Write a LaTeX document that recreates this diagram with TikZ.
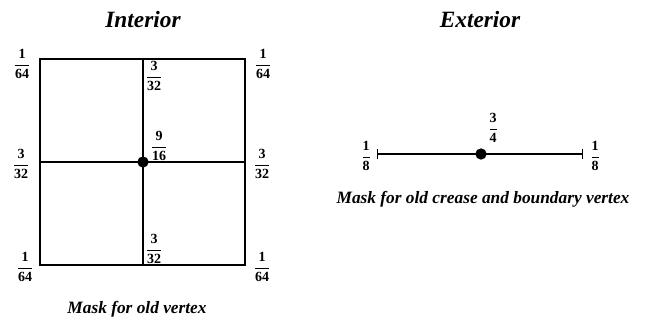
\documentclass[tikz,border=0pt]{standalone}
\usepackage{amsmath}
\usepackage{fontspec}
\setmainfont{Liberation Serif}
\usetikzlibrary{positioning,arrows.meta}
\newcommand{\wt}[2]{$\dfrac{\text{\bfseries #1}}{\text{\bfseries #2}}$}

\begin{document}
\begin{tikzpicture}[
    x=0.75pt,y=-0.75pt,
    edge/.style={line width=1.9pt},
    dot/.style={circle,fill=black,inner sep=0pt,minimum size=8.5pt},
    wlab/.style={inner sep=1pt,font=\fontsize{10.5}{11}\selectfont},
    title/.style={font=\fontsize{17.5}{19}\selectfont\bfseries\itshape},
    caption/.style={font=\fontsize{13}{14}\selectfont\bfseries\itshape},
  ]
    \useasboundingbox (0,0) rectangle (648,322);
    % interior mask
    \coordinate (TL) at (40,59);  \coordinate (BR) at (245,265);
    \coordinate (T) at (143,59);  \coordinate (B) at (143,265);
    \coordinate (L) at (40,162);  \coordinate (R) at (245,162);
    \node[dot] (C) at (143,162) {};
    \draw[edge] (TL) rectangle (BR);
    \draw[edge] (T)--(B); \draw[edge] (L)--(R);
    \node[title] (IN) at (143,20) {Interior};
    \node[wlab] (w1) at (22,64)  {\wt{1}{64}};
    \node[wlab] (w2) at (263,64) {\wt{1}{64}};
    \node[wlab] (w3) at (21,164) {\wt{3}{32}};
    \node[wlab] (w4) at (262,164) {\wt{3}{32}};
    \node[wlab] (w5) at (25,267) {\wt{1}{64}};
    \node[wlab] (w6) at (262,267) {\wt{1}{64}};
    \node[wlab] (w7) at (154,76)  {\wt{3}{32}};
    \node[wlab] (w8) at (159,146) {\wt{9}{16}};
    \node[wlab] (w9) at (154,249) {\wt{3}{32}};
    \node[caption] (CI) at (137,309) {Mask for old vertex};
    % exterior mask
    \coordinate (EL) at (377,154); \coordinate (ER) at (583,154);
    \node[dot] (M) at (481,154) {};
    \draw[line width=1.6pt,{Bar[width=8pt,line width=1pt]}-{Bar[width=8pt,line width=1pt]}] (EL)--(ER);
    \node[title] (EX) at (480,20) {Exterior};
    \node[wlab] (e1) at (493,128) {\wt{3}{4}};
    \node[wlab] (e2) at (366,156) {\wt{1}{8}};
    \node[wlab] (e3) at (595,156) {\wt{1}{8}};
    \node[caption] (CE) at (483,199) {Mask for old crease and boundary vertex};
  \end{tikzpicture}
\end{document}
